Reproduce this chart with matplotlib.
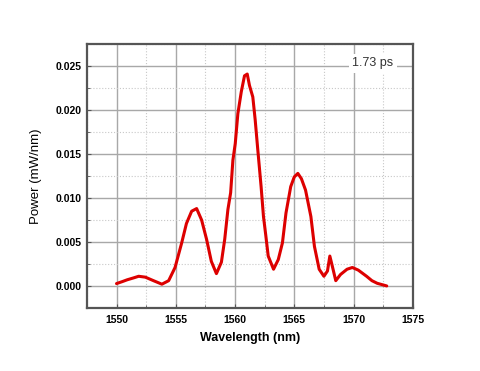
import matplotlib
matplotlib.use("Agg")
import matplotlib.pyplot as plt
from matplotlib.ticker import MultipleLocator, FormatStrFormatter

wavelength = [1550.0, 1550.5, 1550.9, 1551.4, 1551.87, 1552.43, 1553.12, 1553.83, 1554.4,
              1554.94, 1555.5, 1555.9, 1556.34, 1556.76, 1557.18, 1557.6, 1558.0, 1558.43,
              1558.85, 1559.13, 1559.4, 1559.63, 1559.82, 1560.02, 1560.24, 1560.53,
              1560.8, 1561.03, 1561.22, 1561.5, 1561.7, 1561.92, 1562.2, 1562.4, 1562.6,
              1562.8, 1563.25, 1563.65, 1564.0, 1564.3, 1564.7, 1565.0, 1565.3, 1565.6,
              1565.95, 1566.4, 1566.7, 1567.1, 1567.5, 1567.8, 1568.0, 1568.2, 1568.5,
              1568.9, 1569.45, 1569.9, 1570.4, 1571.1, 1571.55, 1572.0, 1572.8]
power = [0.00027, 0.0005, 0.0007, 0.0009, 0.0011, 0.001, 0.0006, 0.0002, 0.0006,
         0.0021, 0.0049, 0.0071, 0.0085, 0.0088, 0.0075, 0.0053, 0.0028, 0.0014,
         0.0027, 0.0053, 0.0087, 0.0106, 0.0143, 0.0162, 0.0196, 0.0221,
         0.0239, 0.0241, 0.0228, 0.0215, 0.0189, 0.0155, 0.0113, 0.0079, 0.0057,
         0.0034, 0.0019, 0.003, 0.0049, 0.0083, 0.0113, 0.0124, 0.0128, 0.0122,
         0.0109, 0.0079, 0.0045, 0.0019, 0.0011, 0.0017, 0.0034, 0.0023, 0.0006,
         0.0013, 0.0019, 0.0021, 0.0018, 0.0011, 0.0006, 0.0003, 0.0]
legend_label = "1.73 ps"

fig = plt.figure(figsize=(4.8, 3.71), dpi=100)
ax = fig.add_axes([0.181, 0.170, 0.679, 0.711])

ax.plot(wavelength, power, color="#dd0000", lw=2.2, zorder=3,
        solid_joinstyle="round", solid_capstyle="round")

ax.set_xlim(1547.5, 1575)
ax.set_ylim(-0.0025, 0.0275)
ax.xaxis.set_major_locator(MultipleLocator(5))
ax.xaxis.set_minor_locator(MultipleLocator(2.5))
ax.yaxis.set_major_locator(MultipleLocator(0.005))
ax.yaxis.set_minor_locator(MultipleLocator(0.0025))
ax.yaxis.set_major_formatter(FormatStrFormatter("%.3f"))

ax.grid(which="major", color="#a8a8a8", lw=1.0, ls="-", zorder=1)
ax.grid(which="minor", color="#c8c8c8", lw=0.8, ls=":", zorder=1)

for s in ax.spines.values():
    s.set_color("#555555")
    s.set_linewidth(1.6)

ax.tick_params(which="both", direction="in", colors="#555555", labelcolor="black",
               labelsize=7.5)
ax.tick_params(which="major", length=3)
ax.tick_params(which="minor", length=2)
ax.tick_params(axis="x", which="both", pad=5)
for lab in ax.get_xticklabels() + ax.get_yticklabels():
    lab.set_fontweight("bold")
    lab.set_family("Liberation Sans")

ax.set_xlabel("Wavelength (nm)", fontsize=9, fontweight="bold", family="Liberation Sans", labelpad=5)
ax.set_ylabel("Power (mW/nm)", fontsize=9.5, family="Liberation Sans", labelpad=10)

ax.text(0.877, 0.928, legend_label, transform=ax.transAxes, ha="center", va="center",
        fontsize=9, color="#333333", family="Liberation Sans",
        bbox=dict(facecolor="white", edgecolor="none", pad=2.5), zorder=4)

fig.savefig("out.png", dpi=100)
